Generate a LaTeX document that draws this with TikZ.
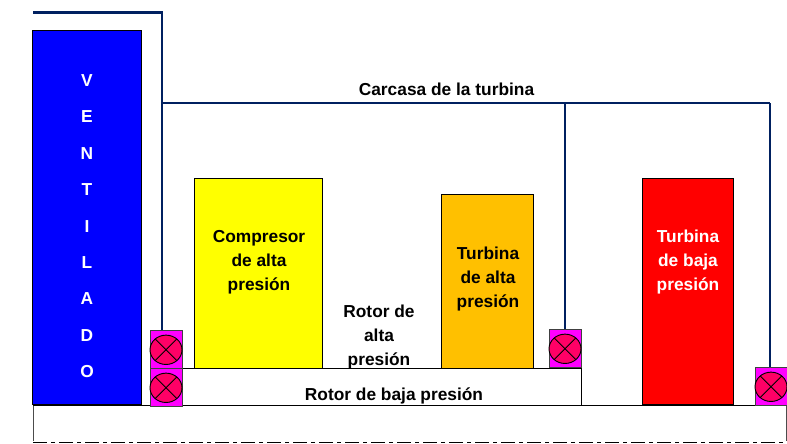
\documentclass[tikz,border=0pt]{standalone}
\usepackage{fontspec}
\setmainfont{Liberation Sans}
\usetikzlibrary{shapes.geometric,positioning}
\definecolor{carcasa}{HTML}{002060}
\definecolor{ambar}{HTML}{FFC000}
\definecolor{rosa}{HTML}{FF0066}
\definecolor{amarillo}{HTML}{FFFF00}
\definecolor{fucsia}{HTML}{FF00FF}
\definecolor{azul}{HTML}{0000FF}
\definecolor{rojo}{HTML}{FF0000}
\tikzset{block/.style={draw,anchor=north west,line width=.7pt,outer sep=0pt,inner sep=0pt},
lbl/.style={font=\bfseries\fontsize{13}{18}\selectfont,align=center,inner sep=0pt,text=black},
bearing/.style={draw=black!75,fill=fucsia,anchor=north west,minimum width=24pt,minimum height=28.5pt,inner sep=0pt,outer sep=0pt,line width=.7pt},
ball/.style={draw,fill=rosa,ellipse,minimum width=24pt,minimum height=22pt,inner sep=0pt,outer sep=0pt,line width=.7pt}}
\tikzstyle{shell} = [line width=2.2pt,draw=carcasa]
\tikzstyle{thinshell} = [line width=1.8pt,draw=carcasa]
\tikzstyle{shaft} = [line width=.7pt,black]
\begin{document}
\begin{tikzpicture}[x=.75pt,y=-.75pt]
	\useasboundingbox (0,0) rectangle (787,443);

	\node[block,fill=azul,minimum width=81.75pt,minimum height=280.5pt] (fan) at (32.8,30.8) {};
	\node[block,fill=amarillo,minimum width=96pt,minimum height=142.5pt] (hpc) at (194.8,178.8) {};
	\node[block,fill=ambar,minimum width=69pt,minimum height=130.5pt] (hpt) at (441.8,194.8) {};
	\node[block,fill=rojo,minimum width=68.25pt,minimum height=169.5pt] (lpt) at (642.8,178.8) {};

	\foreach \t[count=\i from 0] in {V,E,N,T,I,L,A,D,O}
	\node[lbl,text=white] (fan\i) at (87,{80.5+36.4*\i}) {\t};

	\node[lbl] (hpctext) at (259,262) {Compresor\\de alta\\presión};
	\node[lbl] (hpttext) at (488,279) {Turbina\\de alta\\presión};
	\node[lbl,text=white] (lpttext) at (688,262) {Turbina\\de baja\\presión};
	\node[lbl] (casetext) at (446.5,89) {Carcasa de la turbina};
	\node[lbl] (hprotor) at (379,337) {Rotor de\\alta\\presión};
	\node[lbl] (lprotor) at (394,396) {Rotor de baja presión};

	\coordinate (shaftL) at (33,405);
	\coordinate (shaftR) at (786,405);
	\coordinate (baseL) at (33,441);
	\coordinate (baseR) at (786,441);
	\coordinate (dashL) at (33,442);
	\coordinate (dashR) at (787,442);
	\coordinate (rotorL) at (150,368.5);
	\coordinate (rotorR) at (581,368.5);

	\draw[shaft,black!70] (baseL) -- (shaftL);
	\draw[shaft,black!70] (shaftR) -- (baseR);
	\draw[shaft] (shaftL) -- (shaftR);
	\draw[shaft] (rotorL) -- (rotorR) -- (rotorR |- shaftL);
	\draw[shaft,dash pattern=on 10.5pt off 3pt on 3pt off 3pt] (dashL) -- (dashR);

	\node[bearing] (b1) at (150,330) {};
	\node[bearing] (b2) at (150,368) {};
	\node[bearing] (b3) at (549,329) {};
	\node[bearing] (b4) at (755,367) {};
	\foreach \i in {1,...,4}{
		\node[ball] (c\i) at ([yshift=-.6pt]b\i.center) {};
		\draw[line width=.7pt] (c\i.45) -- (c\i.225);
		\draw[line width=.7pt] (c\i.135) -- (c\i.315);
	}

	\coordinate (top) at (33,12.5);
	\coordinate (fork) at (162,103);
	\coordinate (arm) at (565,103);
	\coordinate (end) at (770,103);
	\draw[shell] (top) -- (162,12.5) -- (162,330);
	\draw[thinshell] (fork) -- (end);
	\draw[shell] (end) -- (end |- b4.north);
	\draw[shell] (arm) -- (b3.north);
\end{tikzpicture}
\end{document}
